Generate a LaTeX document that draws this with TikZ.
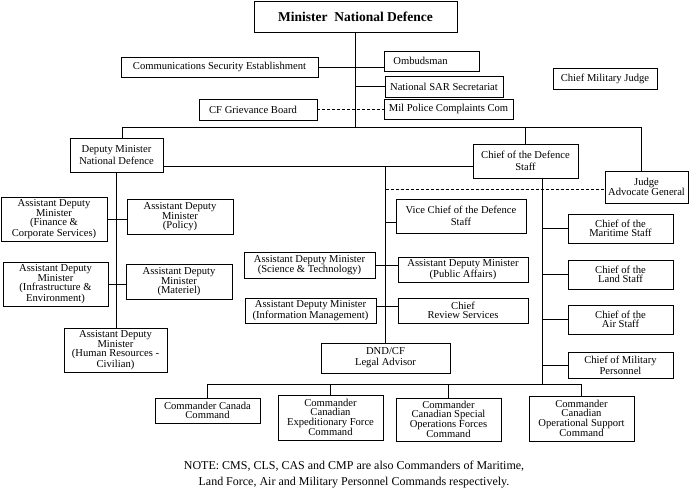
\documentclass[tikz,border=0pt]{standalone}
\usepackage{fontspec}
\setmainfont{Liberation Serif}
\begin{document}
\begin{tikzpicture}[x=1pt,y=-1pt,
  box/.style={draw, line width=0.9pt, inner sep=1pt, align=center, font=\fontsize{10.6}{9.3}\selectfont},
  wide/.style={font=\fontsize{10.6}{12}\selectfont},
  conn/.style={line width=0.9pt},
  dconn/.style={line width=0.9pt, dash pattern=on 3pt off 2pt}]
\useasboundingbox (0,0) rectangle (697,494);
\fill[white] (0,0) rectangle (697,494);
% top level
\node[box, minimum width=203pt, minimum height=31pt, font=\bfseries\fontsize{13.5}{15}\selectfont] (mnd) at (355.5,16.5) {Minister\ \ National Defence};
\node[box, minimum width=197pt, minimum height=20pt] (cse) at (219.5,67) {Communications Security Establishment};
\node[box, minimum width=95pt, minimum height=20pt] (omb) at (431.5,61) {Ombudsman\hspace{22pt}};
\node[box, minimum width=118pt, minimum height=21pt] (nss) at (444,86.5) {National SAR Secretariat};
\node[box, minimum width=118pt, minimum height=21pt] (cfgb) at (258,109.5) {CF Grievance Board\hspace{10pt}};
\node[box, minimum width=129pt, minimum height=20pt] (mpcc) at (448.5,109) {Mil Police Complaints Com};
\node[box, minimum width=104pt, minimum height=21pt] (cmj) at (605,78.5) {Chief Military Judge};
% second level
\node[box, wide, minimum width=93pt, minimum height=34pt] (dm) at (116.5,155) {Deputy Minister\\National Defence};
\node[box, wide, minimum width=105pt, minimum height=34pt] (cds) at (525.5,161) {Chief of the Defence\\Staff};
\node[box, minimum width=83pt, minimum height=32pt] (jag) at (646.5,187) {Judge\\Advocate General};
% DM branch
\node[box, minimum width=106pt, minimum height=44pt] (fin) at (54,219) {Assistant Deputy\\Minister\\(Finance \&\\Corporate Services)};
\node[box, minimum width=106pt, minimum height=35pt] (pol) at (180,216.5) {Assistant Deputy\\Minister\\(Policy)};
\node[box, minimum width=105pt, minimum height=44pt] (inf) at (55.5,284) {Assistant Deputy\\Minister\\(Infrastructure \&\\Environment)};
\node[box, minimum width=106pt, minimum height=35pt] (mat) at (179,281.5) {Assistant Deputy\\Minister\\(Materiel)};
\node[box, minimum width=103pt, minimum height=44pt] (hr) at (115.5,350) {Assistant Deputy\\Minister\\(Human Resources -\\Civilian)};
% centre branch
\node[box, wide, minimum width=130pt, minimum height=34pt] (vcds) at (461,216) {Vice Chief of the Defence\\Staff};
\node[box, minimum width=131pt, minimum height=26pt] (st) at (309.5,265) {Assistant Deputy Minister\\(Science \& Technology)};
\node[box, minimum width=130pt, minimum height=25pt] (pa) at (463,269.5) {Assistant Deputy Minister\\(Public Affairs)};
\node[box, minimum width=131pt, minimum height=25pt] (im) at (310.5,310.5) {Assistant Deputy Minister\\(Information Management)};
\node[box, minimum width=130pt, minimum height=25pt] (crs) at (463,310.5) {Chief\\Review Services};
\node[box, font=\fontsize{10.6}{11}\selectfont, minimum width=129pt, minimum height=30pt] (legal) at (385.5,358) {DND/CF\\Legal Advisor};
% CDS branch
\node[box, minimum width=105pt, minimum height=29pt] (cms) at (620.5,228.5) {Chief of the\\Maritime Staff};
\node[box, minimum width=105pt, minimum height=29pt] (cls) at (620.5,274.5) {Chief of the\\Land Staff};
\node[box, minimum width=105pt, minimum height=29pt] (cas) at (620.5,319.5) {Chief of the\\Air Staff};
\node[box, minimum width=105pt, minimum height=26pt] (cmp) at (620.5,365) {Chief of Military\\Personnel};
% commands
\node[box, minimum width=105pt, minimum height=25pt] (ccc) at (207.5,410.5) {Commander Canada\\Command};
\node[box, minimum width=105pt, minimum height=45pt] (cefc) at (330.5,417.5) {Commander\\Canadian\\Expeditionary Force\\Command};
\node[box, minimum width=105pt, minimum height=43pt] (csofc) at (448.5,419.5) {Commander\\Canadian Special\\Operations Forces\\Command};
\node[box, minimum width=105pt, minimum height=45pt] (cosc) at (581.5,418.5) {Commander\\Canadian\\Operational Support\\Command};
% note
\node[font=\fontsize{12}{16}\selectfont, align=center, inner sep=0pt] (note) at (354,475) {NOTE: CMS, CLS, CAS and CMP are also Commanders of Maritime,\\Land Force, Air and Military Personnel Commands respectively.};
% coordinates
\coordinate (busL) at (122,127);
\coordinate (busR) at (641,127);
\coordinate (dmcds) at (0,166);
\coordinate (dash2) at (0,189);
\coordinate (cdsv) at (542,0);
\coordinate (bus2) at (0,384);
% connectors
\draw[conn] (mnd.south) -- (mnd.south |- busL);
\draw[conn] (cse.east) -- (cse.east -| omb.west);
\draw[conn] (nss.west) -- (nss.west -| mnd.south);
\draw[dconn] (cfgb.east) -- (cfgb.east -| mpcc.west);
\draw[conn] (dm.north -| busL) -- (busL) -- (busR) -- (busR |- jag.north);
\draw[conn] (cds.north |- busL) -- (cds.north);
\draw[conn] (dm.east |- dmcds) -- (cds.west |- dmcds);
\draw[conn] (dm.south) -- (dm.south |- hr.north);
\draw[conn] (fin.east) -- (fin.east -| pol.west);
\draw[conn] (inf.east) -- (inf.east -| mat.west);
\draw[conn] (legal.north |- dmcds) -- (legal.north);
\draw[dconn] (legal.north |- dash2) -- (jag.west |- dash2);
\draw[conn] (legal.north |- 0,222) -- (vcds.west |- 0,222);
\draw[conn] (st.east) -- (st.east -| pa.west);
\draw[conn] (im.east |- 0,306) -- (crs.west |- 0,306);
\draw[conn] (cds.south -| cdsv) -- (cdsv |- bus2);
\draw[conn] (cms.west) -- (cms.west -| cdsv);
\draw[conn] (cls.west) -- (cls.west -| cdsv);
\draw[conn] (cas.west) -- (cas.west -| cdsv);
\draw[conn] (cmp.west) -- (cmp.west -| cdsv);
\draw[conn] (ccc.north) -- (ccc.north |- bus2) -- (cosc.north |- bus2) -- (cosc.north);
\draw[conn] (cefc.north) -- (cefc.north |- bus2);
\draw[conn] (csofc.north) -- (csofc.north |- bus2);
\end{tikzpicture}
\end{document}
